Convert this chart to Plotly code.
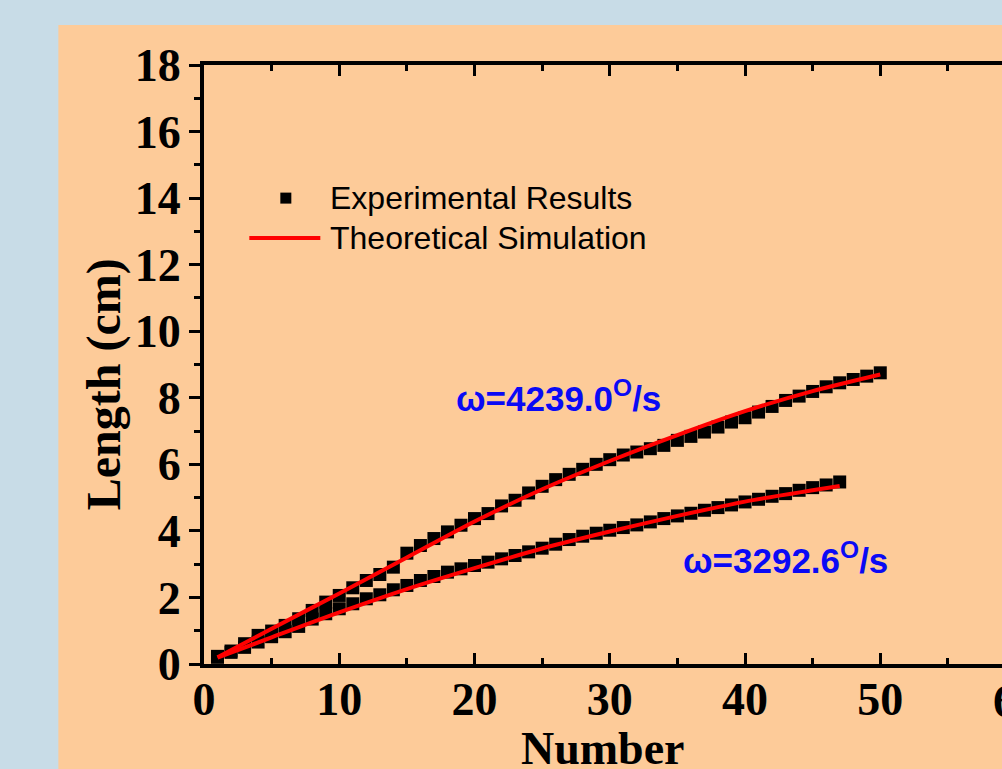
import plotly.graph_objects as go

# Measured lengths for the two rotation speeds
number_hi = list(range(1, 51))
length_hi = [0.23, 0.39, 0.61, 0.86, 0.99, 1.16, 1.36, 1.61, 1.86, 2.06,
             2.29, 2.51, 2.69, 2.91, 3.33, 3.56, 3.77, 3.97, 4.17, 4.37,
             4.52, 4.75, 4.92, 5.14, 5.34, 5.54, 5.70, 5.85, 6.00, 6.14,
             6.28, 6.37, 6.47, 6.57, 6.72, 6.84, 6.97, 7.12, 7.27, 7.40,
             7.57, 7.74, 7.92, 8.05, 8.19, 8.33, 8.45, 8.55, 8.65, 8.75]

number_lo = list(range(1, 48))
length_lo = [0.20, 0.35, 0.50, 0.66, 0.82, 0.97, 1.13, 1.35, 1.51, 1.66,
             1.81, 1.96, 2.08, 2.23, 2.36, 2.51, 2.63, 2.76, 2.86, 2.96,
             3.06, 3.16, 3.26, 3.37, 3.48, 3.60, 3.74, 3.84, 3.93, 4.02,
             4.10, 4.18, 4.27, 4.37, 4.45, 4.53, 4.62, 4.70, 4.78, 4.87,
             4.95, 5.04, 5.12, 5.22, 5.30, 5.38, 5.47]

# Simulated curves
sim_n_hi = [1, 5, 10, 15, 20, 25, 30, 35, 40, 45, 50]
sim_hi = [0.20, 1.06, 2.12, 3.20, 4.28, 5.25, 6.10, 6.88, 7.60, 8.20, 8.70]
sim_n_lo = [1, 5, 10, 15, 20, 25, 30, 35, 40, 45, 47]
sim_lo = [0.19, 0.80, 1.55, 2.25, 2.88, 3.47, 3.98, 4.45, 4.88, 5.22, 5.35]

x_ticks = [0, 10, 20, 30, 40, 50]
y_ticks = [0, 2, 4, 6, 8, 10, 12, 14, 16, 18]

speed_labels = ["ω=4239.0<sup>O</sup>/s", "ω=3292.6<sup>O</sup>/s"]
legend_names = ["Experimental Results", "Theoretical Simulation"]

PEACH = "#FDCB99"
SKY = "#C8DCE7"
BLUE = "#0A0AF5"
SERIF = "Liberation Serif, Times New Roman, serif"
SANS = "Liberation Sans, Arial, sans-serif"

fig = go.Figure()

for xs, ys in ((number_hi, length_hi), (number_lo, length_lo)):
    fig.add_trace(go.Scatter(
        x=xs, y=ys, mode="markers",
        marker=dict(symbol="square", size=13, color="black",
                    line=dict(width=0)),
        showlegend=False, cliponaxis=False))

for xs, ys in ((sim_n_hi, sim_hi), (sim_n_lo, sim_lo)):
    fig.add_trace(go.Scatter(
        x=xs, y=ys, mode="lines",
        line=dict(color="#FF0000", width=4, shape="spline", smoothing=0.8),
        showlegend=False))

X_MAX = 59.0

fig.update_layout(
    width=1002, height=769,
    margin=dict(l=204, r=0, t=65, b=105),
    paper_bgcolor=SKY,
    plot_bgcolor=PEACH,
    showlegend=False,
)

axis_font = dict(family=SERIF, size=46, color="black", weight="bold")
title_font = dict(family=SERIF, size=46, color="black", weight="bold")

fig.update_xaxes(
    range=[0, X_MAX], tickvals=x_ticks, ticks="inside", ticklen=11,
    tickwidth=3, tickcolor="black", showline=True, linewidth=4,
    linecolor="black", mirror="ticks", showgrid=False, zeroline=False,
    tickfont=axis_font, ticklabelstandoff=-8, automargin=False,
    minor=dict(dtick=5, tick0=0, ticks="inside", ticklen=6, tickwidth=3,
               tickcolor="black", showgrid=False),
)
fig.update_yaxes(
    range=[0, 18], tickvals=y_ticks, ticks="outside", ticklen=11,
    tickwidth=3, tickcolor="black", showline=True, linewidth=4,
    linecolor="black", mirror=False, showgrid=False, zeroline=False,
    tickfont=axis_font, ticklabelstandoff=-1, automargin=False,
    minor=dict(dtick=1, tick0=0, ticks="outside", ticklen=6, tickwidth=3,
               tickcolor="black", showgrid=False),
)

# axis titles
fig.add_annotation(xref="paper", yref="paper", x=0.5, y=-0.141,
                   xanchor="center", yanchor="middle",
                   text="Number", showarrow=False, font=title_font)
fig.add_annotation(xref="paper", yref="paper", x=-0.125, y=0.4675,
                   xanchor="center", yanchor="middle", textangle=-90,
                   text="Length (cm)", showarrow=False,
                   font=dict(family=SERIF, size=48, color="black",
                             weight="bold"))

# peach panel behind the plot, leaving a sky-blue strip at left and top
fig.add_shape(type="rect", xref="paper", yref="paper",
              x0=-0.1825, x1=1.05, y0=-0.25, y1=1.0668,
              fillcolor=PEACH, line=dict(width=0), layer="below")

# the "60" tick label sits past the right edge of the page
fig.add_annotation(xref="paper", yref="paper", x=60 / X_MAX, y=0,
                   yanchor="top", xanchor="center", yshift=-10,
                   text="60", showarrow=False, font=axis_font)

# legend
fig.add_trace(go.Scatter(x=[6.05], y=[14.0], mode="markers",
                         marker=dict(symbol="square", size=11, color="black"),
                         showlegend=False, hoverinfo="skip"))
fig.add_shape(type="line", xref="x", yref="y", x0=3.35, x1=8.6,
              y0=12.8, y1=12.8, line=dict(color="#FF0000", width=4))
for name, yy in zip(legend_names, [14.0, 12.8]):
    fig.add_annotation(x=9.2, y=yy, xref="x", yref="y", text=name,
                       xanchor="left", yanchor="middle", showarrow=False,
                       font=dict(family=SANS, size=32, color="black"))

# rotation speed labels
for label, (lx, ly) in zip(speed_labels, [(18.5, 8.05), (35.3, 3.2)]):
    fig.add_annotation(x=lx, y=ly, xref="x", yref="y", text=label,
                       xanchor="left", yanchor="middle", showarrow=False,
                       font=dict(family=SANS, size=35, color=BLUE,
                                 weight="bold"))

fig.write_html("out.html")
